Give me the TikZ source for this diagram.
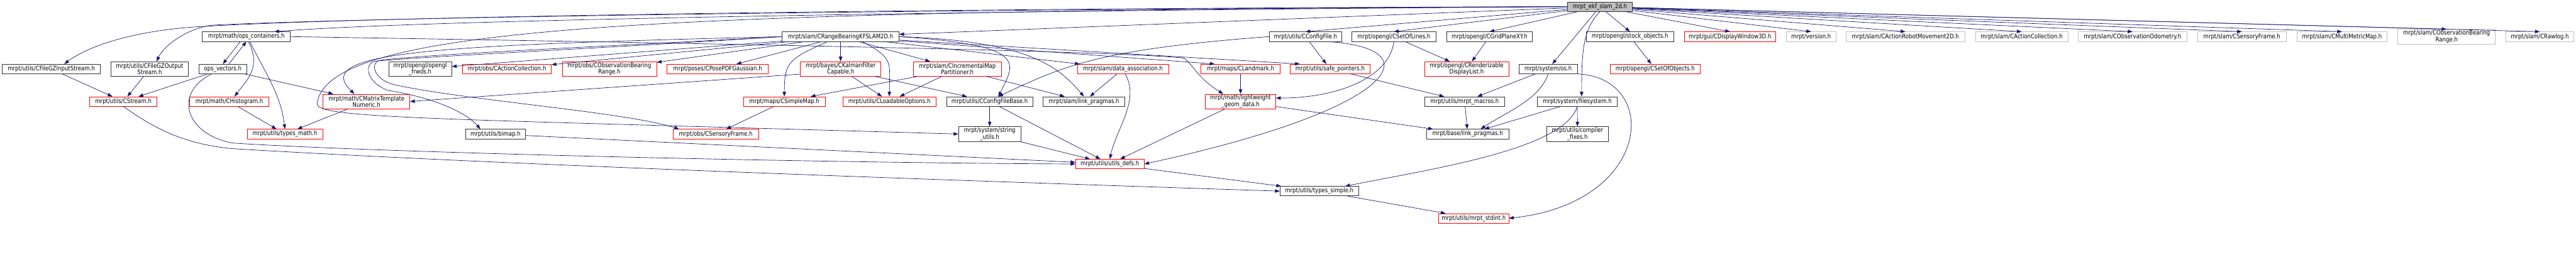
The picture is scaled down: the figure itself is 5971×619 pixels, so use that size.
\documentclass[tikz,border=0pt]{standalone}
\usepackage{fontspec}
\usepackage{tikz}
\usetikzlibrary{arrows.meta}
\usepackage{xcolor}
\newfontfamily\dotfont[FakeStretch=0.85]{DejaVu Sans}
\definecolor{edgeblue}{RGB}{25,25,112}
\definecolor{boxgray}{RGB}{191,191,191}

\begin{document}
\begin{tikzpicture}[x=1pt, y=-1pt,
  basebox/.style={rectangle, draw=black!80, line width=1pt, inner sep=0pt,
                  minimum height=22pt, align=center,
                  font=\dotfont\fontsize{14.7}{12}\selectfont},
  rootbox/.style={basebox, fill=boxgray},
  incbox/.style={basebox},
  cutbox/.style={basebox, draw=red},
  extbox/.style={basebox, draw=boxgray},
  twoline/.style={minimum height=34pt},
  dep/.style={-{Triangle[length=11pt, width=8pt]}, line width=1pt, draw=edgeblue}
]
\useasboundingbox (0,0) rectangle (5971,619);
\fill[white] (0,0) rectangle (5971,619);

% ===== ROW Y POSITIONS =====
\def\rowa{15.5}
\def\rowb{85}
\def\rowc{160}
\def\rowd{235.5}
\def\rowe{311}
\def\rowf{380.5}
\def\rowg{443.5}
\def\rowh{506.5}

% ===== ROOT =====
\node[rootbox, minimum width=151pt] (root) at (3708.5,\rowa) {mrpt\_ekf\_slam\_2d.h};

% ===== ROW 2 =====
\node[incbox, minimum width=204pt] (opsc) at (571,\rowb) {mrpt/math/ops\_containers.h};
\node[incbox, minimum width=271pt] (rbkf) at (1948.5,\rowb) {mrpt/slam/CRangeBearingKFSLAM2D.h};
\node[incbox, minimum width=168pt] (cfg) at (3026,\rowb) {mrpt/utils/CConfigFile.h};
\node[incbox, minimum width=196pt] (setl) at (3231,\rowb) {mrpt/opengl/CSetOfLines.h};
\node[incbox, minimum width=199pt] (grid) at (3452.5,\rowb) {mrpt/opengl/CGridPlaneXY.h};
\node[incbox, minimum width=202pt] (stock) at (3778,\rowb) {mrpt/opengl/stock\_objects.h};
\node[cutbox, minimum width=212pt] (disp) at (4010,\rowb) {mrpt/gui/CDisplayWindow3D.h};
\node[extbox, minimum width=114pt] (ver) at (4198,\rowb) {mrpt/version.h};
\node[extbox, minimum width=275pt] (arm) at (4416.5,\rowb) {mrpt/slam/CActionRobotMovement2D.h};
\node[extbox, minimum width=214pt] (sac) at (4686,\rowb) {mrpt/slam/CActionCollection.h};
\node[extbox, minimum width=252pt] (odo) at (4943,\rowb) {mrpt/slam/CObservationOdometry.h};
\node[extbox, minimum width=205pt] (ssf) at (5196.5,\rowb) {mrpt/slam/CSensoryFrame.h};
\node[extbox, minimum width=209pt] (mmm) at (5428.5,\rowb) {mrpt/slam/CMultiMetricMap.h};
\node[extbox, twoline, minimum width=226pt] (sobr) at (5671,\rowb) {mrpt/slam/CObservationBearing\\Range.h};
\node[extbox, minimum width=158pt] (raw) at (5887,\rowb) {mrpt/slam/CRawlog.h};

% ===== ROW 3 =====
\node[incbox, minimum width=228pt] (gzin) at (119,\rowc) {mrpt/utils/CFileGZInputStream.h};
\node[incbox, twoline, minimum width=180pt] (gzout) at (347,\rowc) {mrpt/utils/CFileGZOutput\\Stream.h};
\node[incbox, minimum width=111pt] (opsv) at (516.5,\rowc) {ops\_vectors.h};
\node[incbox, twoline, minimum width=146pt] (frwds) at (974,\rowc) {mrpt/opengl/opengl\\\_frwds.h};
\node[cutbox, minimum width=206pt] (oac) at (1175,\rowc) {mrpt/obs/CActionCollection.h};
\node[cutbox, twoline, minimum width=219pt] (obr) at (1412.5,\rowc) {mrpt/obs/CObservationBearing\\Range.h};
\node[cutbox, minimum width=235pt] (ppdf) at (1663.5,\rowc) {mrpt/poses/CPosePDFGaussian.h};
\node[cutbox, twoline, minimum width=187pt] (kfc) at (1948.5,\rowc) {mrpt/bayes/CKalmanFilter\\Capable.h};
\node[cutbox, twoline, minimum width=204pt] (imp) at (2219,\rowc) {mrpt/slam/CIncrementalMap\\Partitioner.h};
\node[cutbox, minimum width=212pt] (dass) at (2603,\rowc) {mrpt/slam/data\_association.h};
\node[cutbox, minimum width=183pt] (lmk) at (2875.5,\rowc) {mrpt/maps/CLandmark.h};
\node[cutbox, minimum width=186pt] (safe) at (3083,\rowc) {mrpt/utils/safe\_pointers.h};
\node[cutbox, twoline, minimum width=195pt] (rdl) at (3399.5,\rowc) {mrpt/opengl/CRenderizable\\DisplayList.h};
\node[incbox, minimum width=135pt] (os) at (3588.5,\rowc) {mrpt/system/os.h};
\node[cutbox, minimum width=209pt] (sobj) at (3836.5,\rowc) {mrpt/opengl/CSetOfObjects.h};

% ===== ROW 4 =====
\node[cutbox, minimum width=156pt] (strm) at (286,\rowd) {mrpt/utils/CStream.h};
\node[cutbox, minimum width=183pt] (hist) at (531.5,\rowd) {mrpt/math/CHistogram.h};
\node[cutbox, twoline, minimum width=201pt] (mtn) at (849.5,\rowd) {mrpt/math/CMatrixTemplate\\Numeric.h};
\node[cutbox, minimum width=190pt] (smap) at (1818,\rowd) {mrpt/maps/CSimpleMap.h};
\node[cutbox, minimum width=215pt] (lopt) at (2061.5,\rowd) {mrpt/utils/CLoadableOptions.h};
\node[incbox, minimum width=200pt] (cfb) at (2294,\rowd) {mrpt/utils/CConfigFileBase.h};
\node[incbox, minimum width=189pt] (slp) at (2512.5,\rowd) {mrpt/slam/link\_pragmas.h};
\node[cutbox, twoline, minimum width=163pt] (lgd) at (2875.5,\rowd) {mrpt/math/lightweight\\\_geom\_data.h};
\node[incbox, minimum width=186pt] (mac) at (3395,\rowd) {mrpt/utils/mrpt\_macros.h};
\node[incbox, minimum width=186pt] (fs) at (3656,\rowd) {mrpt/system/filesystem.h};

% ===== ROW 5 AND BELOW =====
\node[cutbox, minimum width=175pt] (tmath) at (660.5,\rowe) {mrpt/utils/types\_math.h};
\node[incbox, minimum width=139pt] (bimap) at (1148.5,\rowe) {mrpt/utils/bimap.h};
\node[cutbox, minimum width=198pt] (osf) at (1659,\rowe) {mrpt/obs/CSensoryFrame.h};
\node[incbox, twoline, minimum width=144pt] (strut) at (2294,\rowe) {mrpt/system/string\\\_utils.h};
\node[incbox, minimum width=190pt] (blp) at (3402,\rowe) {mrpt/base/link\_pragmas.h};
\node[incbox, twoline, minimum width=143pt] (cfix) at (3656.5,\rowe) {mrpt/utils/compiler\\\_fixes.h};
\node[cutbox, minimum width=159pt] (udef) at (2572.5,\rowf) {mrpt/utils/utils\_defs.h};
\node[incbox, minimum width=182pt] (tsim) at (3058,\rowg) {mrpt/utils/types\_simple.h};
\node[cutbox, minimum width=162pt] (stdi) at (3416,\rowh) {mrpt/utils/mrpt\_stdint.h};

% ===== STRAIGHT INCLUDES =====
\foreach \n in {cfg,setl,grid,stock,disp,ver,arm,sac,odo,ssf,mmm,sobr,raw}{
  \draw[dep] (root) -- (\n.north);
}
\foreach \a/\b in {root/os, root/rbkf, gzin/strm, gzout/strm, opsv/strm, opsv/mtn,
    hist/tmath, mtn/tmath, rbkf/frwds, rbkf/oac, rbkf/obr, rbkf/ppdf, rbkf/kfc,
    rbkf/imp, rbkf/dass, kfc/lopt, kfc/cfb, imp/smap, imp/lopt, imp/slp, smap/osf,
    dass/slp, lmk/lgd, lgd/udef, lgd/blp, cfg/safe, setl/rdl, grid/rdl, safe/mac,
    mac/blp, os/mac, fs/blp, fs/cfix, stock/sobj, cfb/strut, cfb/udef, strut/udef,
    bimap/udef, udef/tsim, tsim/stdi}{
  \draw[dep] (\a) -- (\b);
}
\draw[dep] (rbkf) -- ([xshift=-60]lmk.north);
\draw[dep] (rbkf) -- ([xshift=-70]safe.north);
\draw[dep] ([xshift=-14]opsc.south) -- (opsv.north);
\draw[dep] ([xshift=14]opsv.north) -- (opsc.south);
\draw[dep] ([yshift=-12]kfc.west) -- (mtn.east);

% ===== ROUTED INCLUDES (from the root) =====
\draw[dep] (root.west) .. controls (2400,18) and (900,35) .. (460,62)
  .. controls (300,72) and (200,110) .. ([xshift=30]gzin.north);
\draw[dep] (root.west) .. controls (2400,20) and (900,38) .. (500,58)
  .. controls (440,61) and (380,105) .. ([xshift=16]gzout.north);
\draw[dep] (root.west) .. controls (2400,24) and (1000,44) .. ([xshift=65]opsc.north);
\draw[dep] (root.west) .. controls (1500,25) and (760,60) .. (735,240)
  .. controls (730,275) and (1000,275) .. (strut.west);
\draw[dep] (root.south) .. controls +(-40,40) and +(0,-100) .. ([xshift=10]fs.north);

% ===== ROUTED INCLUDES (left part) =====
\draw[dep] ([xshift=5]opsc.south) .. controls +(30,60) and +(30,-40) .. ([xshift=12]hist.north);
\draw[dep] ([xshift=8]opsc.south) .. controls +(40,80) and +(-10,-80) .. (tmath.north);
\draw[dep] (opsc.east) .. controls (1600,100) and (2600,118) .. (2745,135)
  .. controls (2765,150) and (2775,180) .. ([xshift=-40]lgd.north);
\draw[dep] ([xshift=-26]opsv.south) .. controls +(-90,45) and (430,312) .. (540,332)
  .. controls (900,355) and (1900,378) .. (udef.west);
\draw[dep] (strm.south) .. controls (360,300) and (430,335) .. (540,345)
  .. controls (1200,385) and (2400,425) .. (tsim.west);

% ===== ROUTED INCLUDES (CRangeBearingKFSLAM2D) =====
\draw[dep] (rbkf.west) .. controls (1000,105) and (720,120) .. ([xshift=-28]mtn.north);
\draw[dep] (rbkf.west) .. controls (1400,112) and (1000,130) .. (870,142)
  .. controls (845,145) and (845,190) .. (900,210)
  .. controls (1000,225) and (1080,260) .. ([xshift=-35]bimap.north);
\draw[dep] (rbkf.west) .. controls (1400,108) and (1000,125) .. (880,140)
  .. controls (860,143) and (860,185) .. (920,198)
  .. controls (1100,235) and (1450,260) .. ([xshift=-85]osf.north);
\draw[dep] ([xshift=-30]rbkf.south) .. controls +(-90,40) and +(0,-80) .. (smap.north);
\draw[dep] ([xshift=50]rbkf.south) .. controls +(75,40) and +(0,-80) .. (lopt.north);
\draw[dep] (rbkf.east) .. controls +(300,20) and +(40,-80) .. ([xshift=20]cfb.north);
\draw[dep] (rbkf.east) .. controls +(300,10) and +(-60,-70) .. (slp.north);

% ===== ROUTED INCLUDES (right part) =====
\draw[dep] ([xshift=5]dass.south) .. controls +(35,60) and +(15,-70) .. (udef.north);
\draw[dep] (cfg.west) .. controls +(-400,30) and +(150,-70) .. ([xshift=20]cfb.north);
\draw[dep] ([xshift=50]cfg.south) .. controls +(244,14) and +(598,-130) .. (udef.east);
\draw[dep] (setl.south) .. controls +(-10,80) and +(150,0) .. ([yshift=8]lgd.east);
\draw[dep] (os.south) .. controls +(-20,60) and +(60,-40) .. ([xshift=30]blp.north);
\draw[dep] (os.south east) .. controls +(194,9) and +(333,-36) .. (stdi.east);
\draw[dep] (fs.south) .. controls +(-30,100) and +(200,-40) .. ([xshift=60]tsim.north);

\end{tikzpicture}
\end{document}
